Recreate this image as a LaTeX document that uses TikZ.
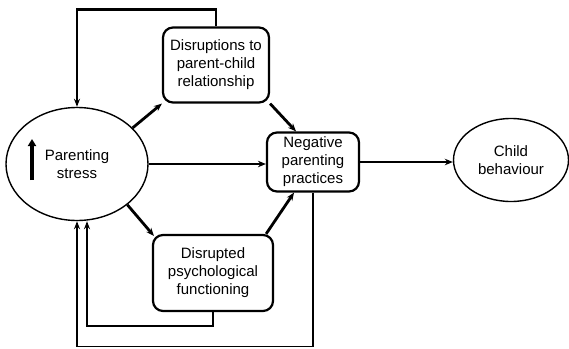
\documentclass[tikz,border=0pt]{standalone}
\usepackage{fontspec}
\setmainfont{Liberation Sans}
\usetikzlibrary{shapes.geometric,arrows.meta}

\begin{document}
\begin{tikzpicture}[x=1pt,y=-1pt,
		font=\fontsize{15}{18}\selectfont,
		box/.style={draw,line width=2.2pt,rounded corners=10pt,align=center,inner sep=0pt},
		oval/.style={draw,ellipse,line width=1.4pt,align=center,inner sep=0pt},
		link/.style={line width=2.8pt,-{Stealth[length=8pt,width=6.5pt]}},
		loopback/.style={line width=2.2pt,-{Stealth[length=8pt,width=6pt]}}]
		\useasboundingbox (0,0) rectangle (569,348);

		\node[oval,minimum width=142pt,minimum height=113pt] (stress)  at (77,164)  {Parenting\\stress};
		\node[box,minimum width=106pt,minimum height=75pt]   (disrupt) at (216,65)  {Disruptions to\\parent-child\\relationship};
		\node[box,minimum width=92pt,minimum height=59pt]    (neg)     at (313,162) {Negative\\parenting\\practices};
		\node[box,minimum width=120pt,minimum height=76pt]   (psych)   at (213,273) {Disrupted\\psychological\\functioning};
		\node[oval,minimum width=115pt,minimum height=83pt]  (child)   at (511,160) {Child\\behaviour};

		% rising stress
		\draw[line width=3.5pt,-{Triangle[length=7pt,width=8pt]}] (32,180) -- (32,139);

		\draw[link] (stress.33) to (disrupt.south west);
		\draw[link] (disrupt.south east) to ([xshift=-17pt]neg.north);
		\draw[link] (stress.east) to (stress.east -| neg.west);
		\draw[link] (stress.-39) to ([shift={(2pt,-2pt)}]psych.north west);
		\draw[link] ([xshift=-8pt]psych.north east) to ([xshift=-19pt]neg.south);
		\draw[link] (neg.east) to (neg.east -| child.west);

		% feedback loops
		\draw[loopback] (disrupt.north) -- ++(0,-17) -| (stress.north);
		\draw[loopback] (psych.south) -- ++(0,14) -| ([xshift=10pt]stress.south);
		\draw[loopback,line width=1.6pt] (neg.south) -- ++(0,154) -| (stress.south);
	\end{tikzpicture}
\end{document}
